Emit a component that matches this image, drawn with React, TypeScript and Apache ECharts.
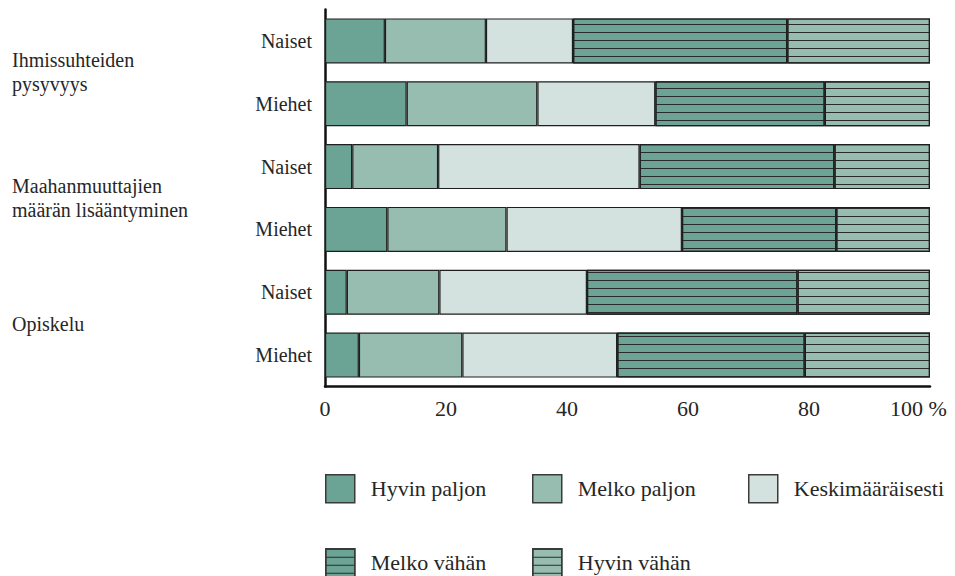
import React, { useEffect, useRef } from "react";
import * as echarts from "echarts";

const groups = ["Ihmissuhteiden\npysyvyys", "Maahanmuuttajien\nmäärän lisääntyminen", "Opiskelu"];
const genders = ["Naiset", "Miehet"];
const seriesNames = ["Hyvin paljon", "Melko paljon", "Keskimääräisesti", "Melko vähän", "Hyvin vähän"];
const hyvinPaljon = [9.9, 13.5, 4.5, 10.3, 3.6, 5.6];
const melkoPaljon = [16.7, 21.6, 14.2, 19.7, 15.3, 17.1];
const keskimaaraisesti = [14.4, 19.5, 33.3, 29.0, 24.4, 25.6];
const melkoVahan = [35.4, 28.0, 32.2, 25.5, 34.8, 31.0];
const hyvinVahan = [23.6, 17.4, 15.8, 15.5, 21.9, 20.7];
const xTicks = [0, 20, 40, 60, 80, 100];

const FONT = "serif";
const TEXT = "#262626";

export default function App() {
  const ref = useRef<HTMLDivElement>(null);
  useEffect(() => {
    if (!ref.current) return;
    const chart = echarts.init(ref.current, null, { renderer: "svg" });
    const rows: string[] = [];
    groups.forEach((g) => genders.forEach((s) => rows.push(g + "|" + s)));
    const values = [hyvinPaljon, melkoPaljon, keskimaaraisesti, melkoVahan, hyvinVahan];
    const colors = ["#6ba495", "#97bdb1", "#d4e2df", "#6ba495", "#97bdb1"];
    const decal = {
      symbol: "rect",
      symbolSize: 1,
      symbolKeepAspect: false,
      dashArrayX: [10, 0],
      dashArrayY: [1, 7],
      rotation: 0,
      color: "#2a2a2a",
    };
    const legendPos = [
      [325, 474],
      [532, 474],
      [748, 474],
      [325, 548],
      [532, 548],
    ];
    chart.setOption({
      animation: false,
      backgroundColor: "#ffffff",
      textStyle: { fontFamily: FONT, color: TEXT },
      grid: { left: 325, right: 25, top: 9.5, bottom: 189.5, containLabel: false },
      xAxis: {
        type: "value",
        min: 0,
        max: 100,
        interval: 20,
        axisLine: { show: true, lineStyle: { color: "#111", width: 2.5 } },
        axisTick: { show: false },
        splitLine: { show: false },
        axisLabel: {
          margin: 11,
          fontSize: 22,
          fontFamily: FONT,
          color: TEXT,
          formatter: (v: number) => (v === xTicks[xTicks.length - 1] ? "{last|" + v + " %}" : String(v)),
          rich: {
            last: { fontSize: 22, fontFamily: FONT, color: TEXT, padding: [0, 23, 0, 0] },
          },
        },
      },
      yAxis: [
        {
          type: "category",
          data: rows,
          inverse: true,
          axisLine: { show: true, onZero: false, lineStyle: { color: "#111", width: 2.5 } },
          axisTick: { show: false },
          axisLabel: {
            margin: 13,
            fontSize: 20,
            fontFamily: FONT,
            color: TEXT,
            formatter: (v: string) => v.split("|")[1],
          },
        },
        {
          type: "category",
          data: groups,
          inverse: true,
          position: "left",
          axisLine: { show: false },
          axisTick: { show: false },
          axisLabel: {
            margin: 313,
            align: "left",
            fontSize: 20,
            lineHeight: 24,
            fontFamily: FONT,
            color: TEXT,
            padding: [0, 0, 6, 0],
          },
        },
      ],
      legend: seriesNames.map((n, i) => ({
        data: [n],
        left: legendPos[i][0],
        top: legendPos[i][1],
        padding: 0,
        icon: "rect",
        itemWidth: 29,
        itemHeight: 28,
        selectedMode: false,
        itemStyle: { borderColor: "#3a3a3a", borderWidth: 1.5 },
        textStyle: { fontSize: 22, fontFamily: FONT, color: TEXT, padding: [0, 0, 0, 11] },
      })),
      series: seriesNames.map((n, i) => ({
        name: n,
        type: "bar",
        stack: "total",
        yAxisIndex: 0,
        barWidth: 45,
        data: values[i],
        itemStyle: {
          color: colors[i],
          borderColor: "#1e1e1e",
          borderWidth: 1.2,
          decal: i >= 3 ? decal : undefined,
        },
      })),
    });
    return () => chart.dispose();
  }, []);
  return (
    <div
      ref={ref}
      style={{ position: "fixed", left: 0, top: 0, width: 955, height: 576, background: "#fff" }}
    />
  );
}
